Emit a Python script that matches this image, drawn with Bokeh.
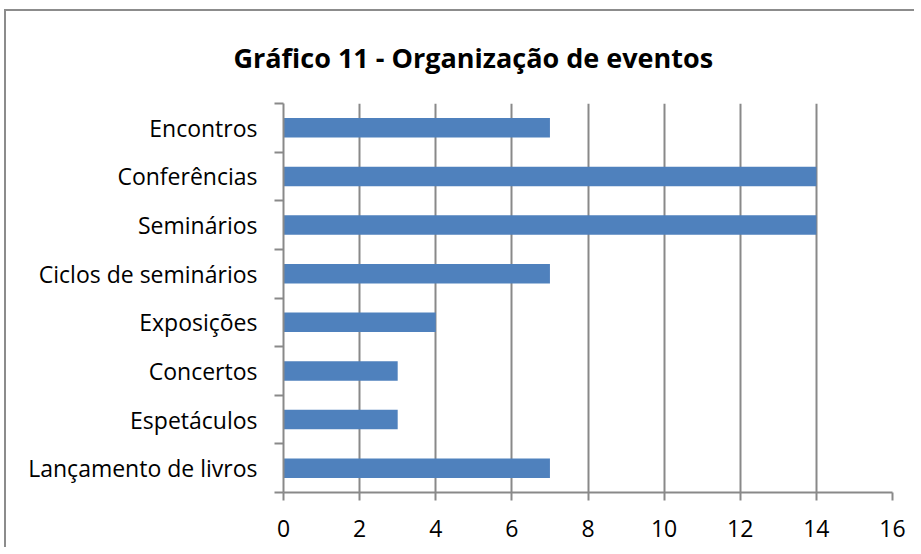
from bokeh.plotting import figure
from bokeh.models import FixedTicker, Range1d
from bokeh.embed import file_html
from bokeh.resources import INLINE

# Data (top to bottom as shown in the reference)
categories = ["Encontros", "Conferências", "Seminários", "Ciclos de seminários",
              "Exposições", "Concertos", "Espetáculos", "Lançamento de livros"]
values = [7, 14, 14, 7, 4, 3, 3, 7]
x_ticks = [0, 2, 4, 6, 8, 10, 12, 14, 16]

# bottom-to-top order for the numeric category axis
cats_bt = categories[::-1]
vals_bt = values[::-1]
pos = list(range(len(cats_bt)))

FONT = "Open Sans"
GRAY = "#898989"

p = figure(width=910, height=538, output_backend="svg", toolbar_location=None,
           x_range=Range1d(0, 16), y_range=Range1d(-0.5, len(cats_bt) - 0.5),
           title="Gráfico 11 - Organização de eventos",
           min_border_left=277, min_border_right=24, min_border_top=92, min_border_bottom=57)
p.margin = (9, 0, 0, 4)
p.styles = {"border-left": "2px solid #8c8c8c", "border-top": "2px solid #8c8c8c"}

p.hbar(y=pos, right=vals_bt, left=0, height=0.4, color="#4F81BD", line_color=None)

# title
p.title.text_font = FONT
p.title.text_font_size = "27px"
p.title.text_font_style = "bold"
p.title.text_color = "#000000"
p.title.align = "left"
p.title.offset = -50
p.title.vertical_align = "top"
p.title.standoff = 52

# x axis
xa = p.xaxis[0]
xa.ticker = FixedTicker(ticks=x_ticks)
xa.axis_line_color = GRAY
xa.axis_line_width = 2
xa.major_tick_line_color = GRAY
xa.major_tick_line_width = 2
xa.major_tick_out = 8
xa.major_tick_in = 0
xa.minor_tick_line_color = None
xa.major_label_text_font = FONT
xa.major_label_text_font_size = "23px"
xa.major_label_text_color = "#000000"
xa.major_label_standoff = 19

# y axis: labels at category centres, tick marks at category boundaries
ya = p.yaxis[0]
ya.ticker = FixedTicker(ticks=pos, minor_ticks=[i - 0.5 for i in range(len(cats_bt) + 1)])
ya.major_label_overrides = {i: c for i, c in enumerate(cats_bt)}
ya.axis_line_color = GRAY
ya.axis_line_width = 2
ya.major_tick_line_color = None
ya.major_tick_out = 0
ya.major_tick_in = 0
ya.minor_tick_line_color = GRAY
ya.minor_tick_line_width = 2
ya.minor_tick_out = 9
ya.minor_tick_in = 0
ya.major_label_text_font = FONT
ya.major_label_text_font_size = "23px"
ya.major_label_text_color = "#000000"
ya.major_label_standoff = 17

# grid
p.xgrid.ticker = FixedTicker(ticks=x_ticks)
p.xgrid.grid_line_color = GRAY
p.xgrid.grid_line_width = 2
p.ygrid.grid_line_color = None
p.outline_line_color = None

open("out.html", "w").write(file_html(p, INLINE))
